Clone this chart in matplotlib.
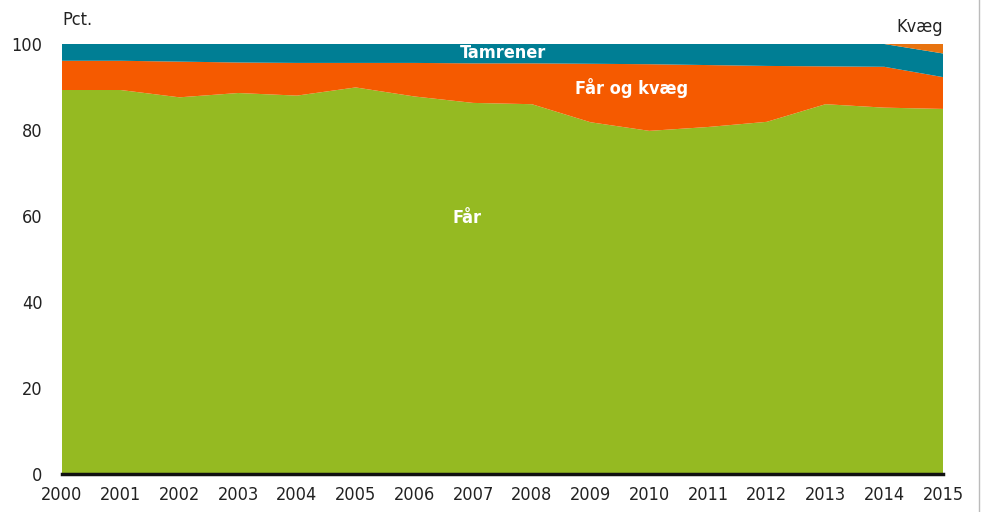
import matplotlib.pyplot as plt
from matplotlib.lines import Line2D
from matplotlib import font_manager

# Data (percent)
years = list(range(2000, 2016))
faar = [89.3, 89.3, 87.6, 88.6, 88.0, 89.9, 87.8, 86.3, 86.0, 81.8, 79.8, 80.7, 81.9, 86.0, 85.2, 84.9]
faar_og_kvaeg = [6.8, 6.8, 8.3, 7.1, 7.6, 5.7, 7.8, 9.2, 9.5, 13.6, 15.5, 14.4, 13.0, 8.8, 9.5, 7.4]
tamrener = [3.9, 3.9, 4.1, 4.3, 4.4, 4.4, 4.4, 4.5, 4.5, 4.6, 4.7, 4.9, 5.1, 5.2, 5.3, 5.5]
kvaeg = [0.0, 0.0, 0.0, 0.0, 0.0, 0.0, 0.0, 0.0, 0.0, 0.0, 0.0, 0.0, 0.0, 0.0, 0.0, 2.2]

colors = ["#95BA22", "#F55A00", "#007E94", "#E8730F"]

plt.rcParams['font.family'] = ['DejaVu Sans']
plt.rcParams['font.stretch'] = 'condensed'
found = font_manager.findfont(font_manager.FontProperties(family='DejaVu Sans', stretch='condensed'))

fig = plt.figure(figsize=(9.86, 5.12), dpi=100)
ax = fig.add_axes([62 / 986, 38 / 512, 881 / 986, 430 / 512])

ax.stackplot(years, faar, faar_og_kvaeg, tamrener, kvaeg, colors=colors, linewidth=0)

ax.set_xlim(2000, 2015)
ax.set_ylim(0, 100)
ax.set_xticks(years)
ax.set_yticks([0, 20, 40, 60, 80, 100])
ax.tick_params(axis='both', length=0, labelsize=13, colors='#222222')
ax.tick_params(axis='x', pad=9)
ax.tick_params(axis='y', pad=14)
for s in ax.spines.values():
    s.set_visible(False)
ax.axhline(0, color='#111111', linewidth=2.5, clip_on=False)

# Series labels
ax.text(2007.5, 97.9, "Tamrener", color='white', fontsize=13, fontweight='bold', ha='center', va='center')
ax.text(2009.7, 89.8, "Får og kvæg", color='white', fontsize=13, fontweight='bold', ha='center', va='center')
ax.text(2006.9, 59.5, "Får", color='white', fontsize=13, fontweight='bold', ha='center', va='center')
ax.text(2014.6, 104, "Kvæg", color='#222222', fontsize=13, ha='center', va='center')
ax.text(2000, 105.5, "Pct.", color='#222222', fontsize=13, ha='left', va='center')

# thin border line at the right side of the image
fig.add_artist(Line2D([979 / 986, 979 / 986], [0, 1], color='#BBBBBB', linewidth=1))

fig.savefig("out.png", dpi=100)
print(found)
